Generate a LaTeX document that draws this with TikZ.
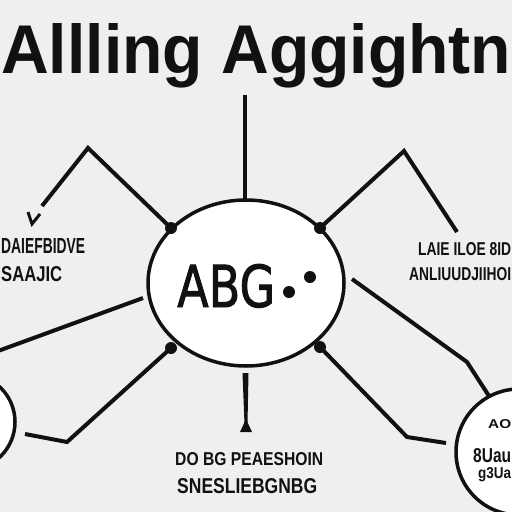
\documentclass[tikz,border=0pt]{standalone}
\usepackage{fontspec}
\usepackage{graphicx}
\setmainfont{Liberation Sans}
\newfontfamily\abgfont[FakeBold=1.6]{DejaVu Sans}
\usetikzlibrary{shapes.geometric}
\definecolor{bg}{HTML}{EFEFEF}
\definecolor{ink}{HTML}{111111}
\tikzset{
  conn/.style={draw=ink, line width=4pt, line join=miter},
  lbl/.style={inner sep=0pt, anchor=base west, text=ink},
  jdot/.style={fill=ink, draw=none},
}
\begin{document}
\begin{tikzpicture}[x=1pt, y=-1pt]
\useasboundingbox (0,0) rectangle (512,512);
\fill[bg] (0,0) rectangle (512,512);
\clip (0,0) rectangle (512,512);
% title
\node[lbl] (title) at (1,73) {\resizebox{510pt}{50pt}{\bfseries Allling Aggightn}};
% central ellipse
\node[ellipse, draw=ink, fill=white, line width=3.5pt, minimum width=196pt, minimum height=166pt, inner sep=0pt] (c) at (246,283) {};
\node[lbl] (abg) at (177,307) {\resizebox{98pt}{43pt}{\abgfont ABG}};
\fill[ink] (289,292) circle (6);
\fill[ink] (310,277) circle (6);
% side circles
\node[circle, draw=ink, fill=white, line width=3.5pt, minimum size=96pt, inner sep=0pt] (lc) at (-33,422) {};
\node[circle, draw=ink, fill=white, line width=3.5pt, minimum size=126pt, inner sep=0pt] (rc) at (519,452) {};
% coordinates
\coordinate (top0) at (245,95);
\coordinate (top1) at (245,201);
\coordinate (d1) at (171,228);
\coordinate (d2) at (320,228);
\coordinate (d3) at (171,348);
\coordinate (d4) at (320,347);
\coordinate (ul1) at (88,148);
\coordinate (ul2) at (42,206);
\coordinate (ur1) at (404,151);
\coordinate (ur2) at (457,232);
\coordinate (lm0) at (143,298);
\coordinate (lm1) at (-2,351);
\coordinate (ll1) at (67,442);
\coordinate (ll2) at (25,434);
\coordinate (r0) at (352,279);
\coordinate (r1) at (467,362);
\coordinate (r2) at (489,396);
\coordinate (lr1) at (407,437);
\coordinate (lr2) at (446,443);
\coordinate (b0) at (245,372);
\coordinate (b1) at (246,424);
% connectors
\draw[conn] (top0) -- (top1);
\draw[conn] (d1) -- (ul1) -- (ul2);
\draw[conn] (d2) -- (ur1) -- (ur2);
\draw[conn] (lm0) -- (lm1);
\draw[conn] (d3) -- (ll1) -- (ll2);
\draw[conn] (r0) -- (r1) -- (r2);
\draw[conn] (d4) -- (lr1) -- (lr2);
\fill[ink] (242.5,373) -- (248.5,373) -- (247.5,424) -- (244.5,424) -- cycle;
\fill[ink] (246,419) -- (252,432) -- (240,432) -- cycle;
\draw[conn, line width=3pt] (28,212) -- (32,224) -- (40,214);
% junction dots
\foreach \p in {d1,d2,d3,d4} \fill[jdot] (\p) circle (6);
% labels
\node[lbl] (l1) at (1,253) {\resizebox{84pt}{15pt}{\bfseries DAIEFBIDVE}};
\node[lbl] (l2) at (1,281) {\resizebox{61pt}{15pt}{\bfseries SAAJIC}};
\node[lbl] (r1t) at (418,255) {\resizebox{93pt}{13pt}{\bfseries LAIE ILOE 8ID}};
\node[lbl] (r2t) at (409,280) {\resizebox{102pt}{13pt}{\bfseries ANLIUUDJIIHOI}};
\node[lbl] (b1t) at (175,465) {\resizebox{148pt}{13pt}{\bfseries DO BG PEAESHOIN}};
\node[lbl] (b2t) at (177,493) {\resizebox{140pt}{15pt}{\bfseries SNESLIEBGNBG}};
\node[lbl] (c1t) at (488,428) {\resizebox{23pt}{9pt}{\bfseries AO}};
\node[lbl] (c2t) at (473,462) {\resizebox{38pt}{14pt}{\bfseries 8Uau}};
\node[lbl] (c3t) at (478,478) {\resizebox{33pt}{11pt}{\bfseries g3Ua}};
\end{tikzpicture}
\end{document}
